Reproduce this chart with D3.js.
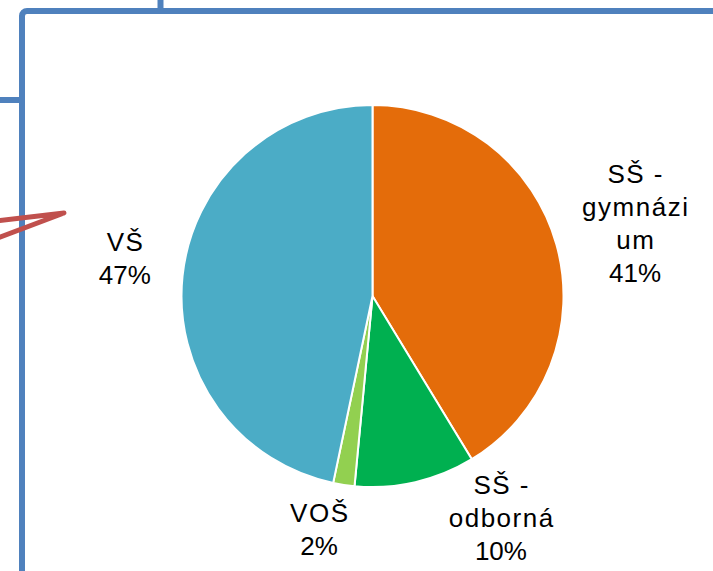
<!DOCTYPE html>
<html lang="cs">
<head>
    <meta charset="UTF-8">
    <title>Pie Chart with D3.js</title>
    <script src="https://d3js.org/d3.v7.min.js"></script>
    <style>
        body { margin: 0; background: #fff; }
        text { font-family: Arial, "Liberation Sans", sans-serif; }
    </style>
</head>
<body>

<div id="piechart"></div>

<script>
    // Data
    var categories = ["SŠ - gymnázium", "SŠ - odborná", "VOŠ", "VŠ"];
    var values = [41.3, 10.2, 1.8, 46.7];
    var colors = ["#e46c0a", "#00b050", "#92d050", "#4bacc6"];
    // wrapped label text, as in the original
    var labelLines = [["SŠ -", "gymnázi", "um"], ["SŠ -", "odborná"], ["VOŠ"], ["VŠ"]];

    var width = 713, height = 571;
    var radius = 191,
        cx = 372.5, cy = 296;

    var svg = d3.select("#piechart")
        .append("svg")
        .attr("width", width)
        .attr("height", height);

    // Frame lines behind the chart
    var frame = svg.append("g")
        .attr("fill", "none")
        .attr("stroke", "#4f81bd")
        .attr("stroke-width", 6);
    frame.append("rect")
        .attr("x", 22).attr("y", 11)
        .attr("width", 900).attr("height", 900)
        .attr("rx", 5);
    frame.append("line").attr("x1", 0).attr("y1", 100).attr("x2", 22).attr("y2", 100);
    frame.append("line").attr("x1", 160.5).attr("y1", 0).attr("x2", 160.5).attr("y2", 11);

    // callout pointer
    svg.append("path")
        .attr("d", "M-5,221 L64,213 L-5,239")
        .attr("fill", "none")
        .attr("stroke", "#c0504d")
        .attr("stroke-width", 5)
        .attr("stroke-linejoin", "round");

    var data = categories.map(function(c, i) {
        return {name: c, value: values[i], color: colors[i], lines: labelLines[i]};
    });
    var total = d3.sum(values);

    var pie = d3.pie()
        .sort(null)
        .value(function(d) { return d.value; });

    var arc = d3.arc()
        .innerRadius(0)
        .outerRadius(radius);

    var labelArc = d3.arc()
        .innerRadius(256)
        .outerRadius(256);

    var g = svg.append("g")
        .attr("transform", "translate(" + cx + "," + cy + ")");

    var arcs = pie(data);

    g.selectAll("path.slice")
        .data(arcs)
        .enter()
        .append("path")
        .attr("class", "slice")
        .attr("d", arc)
        .attr("fill", function(d) { return d.data.color; })
        .attr("stroke", "#fff")
        .attr("stroke-width", 2);

    // label nudges so labels sit like Excel's best fit
    var nudge = {
        "SŠ - gymnázium": [16, -4],
        "SŠ - odborná": [71, -28],
        "VOŠ": [-15, -20],
        "VŠ": [7, -11]
    };

    var fmt = d3.format(".0%");
    var lineH = 33, fontSize = 26;

    var labels = g.selectAll("text.label")
        .data(arcs)
        .enter()
        .append("text")
        .attr("class", "label")
        .attr("text-anchor", "middle")
        .attr("font-size", fontSize)
        .attr("fill", "#000")
        .attr("transform", function(d) {
            var c = labelArc.centroid(d);
            var n = nudge[d.data.name];
            return "translate(" + (c[0] + n[0]) + "," + (c[1] + n[1]) + ")";
        });

    labels.each(function(d) {
        var lines = d.data.lines.concat([fmt(d.data.value / total)]);
        var y0 = -(lines.length - 1) * lineH / 2 + fontSize * 0.716 / 2;
        var t = d3.select(this);
        lines.forEach(function(l, i) {
            var isPct = i === lines.length - 1;
            t.append("tspan")
                .attr("x", isPct ? 0 : 0.75)
                .attr("y", y0 + i * lineH)
                .style("letter-spacing", isPct ? "0px" : "1.5px")
                .text(l);
        });
    });
</script>

</body>
</html>
